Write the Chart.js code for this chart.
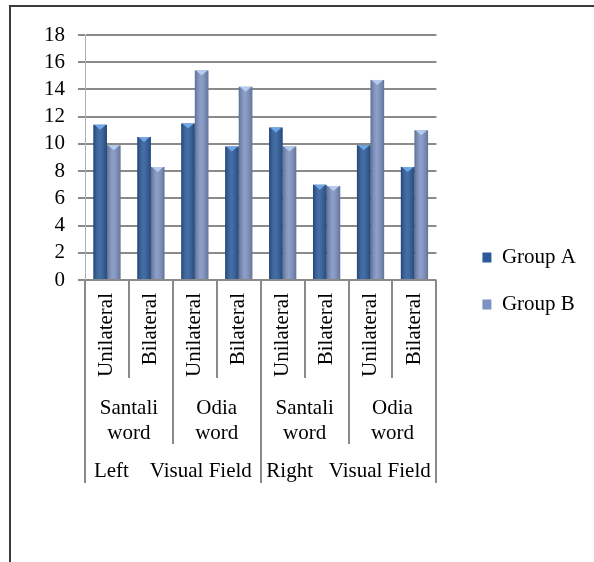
<!DOCTYPE html>
<html>
<head>
<meta charset="utf-8">
<script src="https://cdn.jsdelivr.net/npm/chart.js@4.4.1/dist/chart.umd.min.js"></script>
<style>
  body { margin: 0; background: #fff; }
  #wrap { position: relative; width: 594px; height: 562px; overflow: hidden; }
  #frame { position: absolute; left: 9px; top: 5px; width: 700px; height: 700px;
           border-left: 2px solid #3c3c3c; border-top: 2px solid #3c3c3c; pointer-events: none; }
</style>
</head>
<body>
<div id="wrap">
  <canvas id="chart"></canvas>
  <div id="frame"></div>
</div>
<script>
// ---------- DATA ----------
const categories = ['Unilateral', 'Bilateral', 'Unilateral', 'Bilateral',
                    'Unilateral', 'Bilateral', 'Unilateral', 'Bilateral'];
const wordLabels = [['Santali', 'word'], ['Odia', 'word'], ['Santali', 'word'], ['Odia', 'word']];
const fieldLabels = ['Left    Visual Field', 'Right   Visual Field'];
const groupA = [11.4, 10.5, 11.5, 9.8, 11.2, 7.0, 9.9, 8.3];
const groupB = [9.9, 8.3, 15.4, 14.2, 9.8, 6.9, 14.7, 11.0];

const FONT = 'Liberation Serif, Times New Roman, serif';
const FSIZE = 21;
const LINE = '#8a8a8a';

// shading + little chevron on top of each bar
const barShade = {
  id: 'barShade',
  afterDatasetsDraw(chart) {
    const ctx = chart.ctx;
    chart.data.datasets.forEach((ds, di) => {
      chart.getDatasetMeta(di).data.forEach(bar => {
        const l = bar.x - bar.width / 2, r = bar.x + bar.width / 2;
        const g = ctx.createLinearGradient(l, 0, r, 0);
        g.addColorStop(0, 'rgba(0,0,0,0.25)');
        g.addColorStop(0.45, 'rgba(255,255,255,0.12)');
        g.addColorStop(1, 'rgba(0,0,0,0.22)');
        ctx.save();
        ctx.fillStyle = g;
        ctx.fillRect(l, bar.y, bar.width, bar.base - bar.y);
        ctx.fillStyle = di === 0 ? '#6fa6e6' : '#b4cdef';
        ctx.beginPath();
        ctx.moveTo(l + 1, bar.y);
        ctx.lineTo(r - 1, bar.y);
        ctx.lineTo(bar.x, bar.y + 5);
        ctx.closePath();
        ctx.fill();
        ctx.restore();
      });
    });
  }
};

// multi-level category boxes under the x axis
const levels = {
  id: 'levels',
  afterDraw(chart) {
    const ctx = chart.ctx, x = chart.scales.x;
    const top = chart.chartArea.bottom;
    const step = x.getPixelForValue(1) - x.getPixelForValue(0);
    const edge = i => x.getPixelForValue(0) - step / 2 + i * step;
    ctx.save();
    ctx.strokeStyle = LINE;
    ctx.lineWidth = 2;
    for (let i = 0; i <= categories.length; i++) {
      const len = i % 4 === 0 ? 203 : (i % 2 === 0 ? 164 : 98);
      const px = Math.round(edge(i));
      ctx.beginPath();
      ctx.moveTo(px, top);
      ctx.lineTo(px, top + len);
      ctx.stroke();
    }
    ctx.fillStyle = '#000';
    ctx.font = FSIZE + 'px ' + FONT;
    ctx.textAlign = 'center';
    ctx.textBaseline = 'middle';
    wordLabels.forEach((lines, j) => {
      const cx = (edge(2 * j) + edge(2 * j + 2)) / 2;
      lines.forEach((t, k) => ctx.fillText(t, cx, top + 128 + k * 25));
    });
    fieldLabels.forEach((t, j) => {
      const cx = (edge(4 * j) + edge(4 * j + 4)) / 2;
      ctx.fillText(t, cx, top + 191);
    });
    ctx.restore();
  }
};

const ctx = document.getElementById('chart').getContext('2d');
new Chart(ctx, {
  type: 'bar',
  data: {
    labels: categories,
    datasets: [
      { label: 'Group A', data: groupA, backgroundColor: '#2b5a9b', yAxisID: 'y' },
      { label: 'Group B', data: groupB, backgroundColor: '#7d92c2', yAxisID: 'y' }
    ]
  },
  options: {
    responsive: true,
    maintainAspectRatio: false,
    animation: false,
    categoryPercentage: 0.62,
    barPercentage: 1.0,
    layout: { padding: { left: 35, top: 35, right: 8, bottom: 35 } },
    scales: {
      x: {
        grid: { display: false, drawTicks: false },
        border: { display: false },
        ticks: {
          color: '#000', font: { family: FONT, size: FSIZE },
          minRotation: 90, maxRotation: 90, padding: 13, autoSkip: false
        },
        afterFit(scale) { scale.height = 247; }
      },
      y: {
        min: 0, max: 18,
        ticks: { stepSize: 2, autoSkip: false, color: '#000',
                 font: { family: FONT, size: FSIZE, lineHeight: 1 }, padding: 13 },
        grid: { color: LINE, lineWidth: 2, tickLength: 7 },
        border: { color: '#b0b0b0', width: 1 },
        afterFit(scale) { scale.width = 50; }
      },
      spacer: {
        type: 'linear', position: 'right',
        grid: { display: false, drawTicks: false },
        border: { display: false },
        ticks: { display: false },
        afterFit(scale) { scale.width = 20; }
      }
    },
    plugins: {
      legend: {
        position: 'right',
        maxWidth: 200,
        labels: {
          color: '#000', font: { family: FONT, size: FSIZE },
          boxWidth: 9, boxHeight: 10, padding: 26
        }
      },
      tooltip: { enabled: false }
    }
  },
  plugins: [barShade, levels]
});
</script>
</body>
</html>
